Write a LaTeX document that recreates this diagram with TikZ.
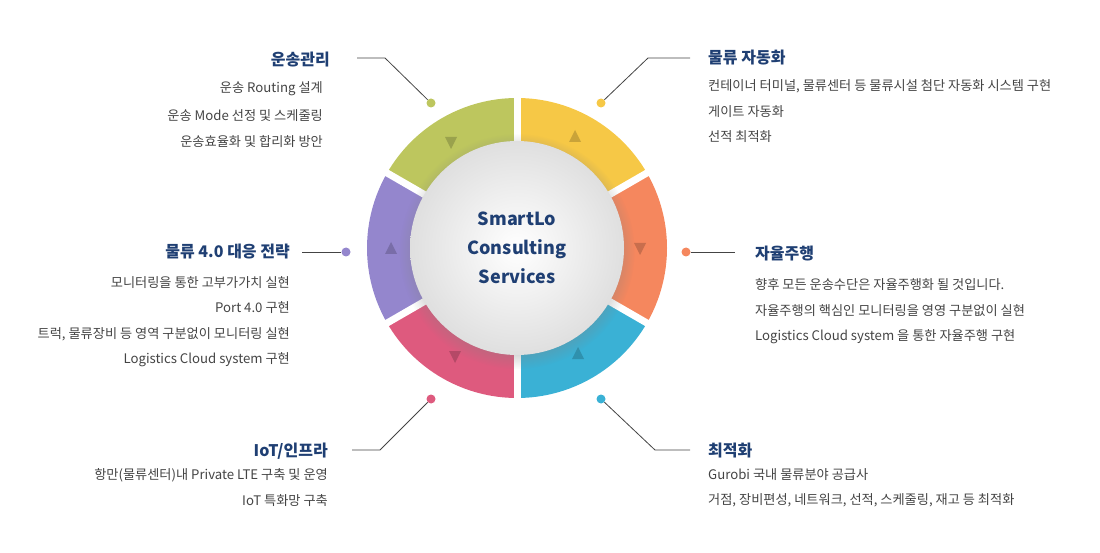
\documentclass[tikz,border=0pt]{standalone}
\usepackage{fontspec}
\setmainfont{Noto Sans CJK KR}
\usetikzlibrary{shadows}
\definecolor{ttl}{HTML}{1F3F73}
\definecolor{bdy}{HTML}{444444}
\definecolor{cy}{HTML}{F6C846}
\definecolor{co}{HTML}{F5875E}
\definecolor{cb}{HTML}{3AB1D5}
\definecolor{cp}{HTML}{DE5A7E}
\definecolor{cu}{HTML}{9486CD}
\definecolor{cg}{HTML}{BDC65E}
\definecolor{ln}{HTML}{444444}
\tikzset{
 ttlL/.style={anchor=west,font=\fontsize{16}{18}\selectfont\bfseries,text=ttl,inner sep=0},
 ttlR/.style={anchor=east,font=\fontsize{16}{18}\selectfont\bfseries,text=ttl,inner sep=0},
 bodyL/.style={anchor=west,font=\fontsize{13.2}{15}\selectfont,text=bdy,inner sep=0},
 bodyR/.style={anchor=east,font=\fontsize{13.2}{15}\selectfont,text=bdy,inner sep=0},
 lead/.style={draw=ln,line width=0.8pt},
 tri/.style={fill=black,fill opacity=0.18}
}
\begin{document}
\begin{tikzpicture}[x=1pt,y=-1pt]
\useasboundingbox (0,0) rectangle (1100,553);
\begin{scope}[shift={(517,248)},y=1pt]
 \foreach \a/\b/\c in {30/90/cy,-30/30/co,-90/-30/cb,-150/-90/cp,150/210/cu,90/150/cg}{
  \fill[\c] (0,0) -- (\a:150) arc[start angle=\a,end angle=\b,radius=150] -- cycle;}
 \foreach \a in {90,30,-30,-90,-150,150}{\draw[white,line width=7pt] (0,0) -- (\a:155);}
 \fill[tri] (-66,99) -- (-60,111) -- (-72,111) -- cycle;
 \fill[tri] (58,118) -- (52,106) -- (64,106) -- cycle;
 \fill[tri] (123,-7) -- (117,5) -- (129,5) -- cycle;
 \fill[tri] (61,-99) -- (55,-111) -- (67,-111) -- cycle;
 \fill[tri] (-62,-115) -- (-68,-103) -- (-56,-103) -- cycle;
 \fill[tri] (-126,6) -- (-132,-6) -- (-120,-6) -- cycle;
 \shade[inner color=white,outer color=gray!25,circular drop shadow={shadow xshift=0pt,shadow yshift=-3pt,opacity=0.35}] (0,0) circle[radius=107];
\end{scope}
\node[align=center,font=\fontsize{18}{29}\selectfont\bfseries,text=ttl] (c) at (517,248) {SmartLo\\Consulting\\Services};
\foreach \n/\x/\y/\c in {d1/431/103/cg,d2/601/103/cy,d3/686/252/co,d4/601/399/cb,d5/431/399/cp,d6/346/252/cu}{
 \node[circle,fill=\c,minimum size=9pt,inner sep=0] (\n) at (\x,\y) {};}
\coordinate (k1) at (385,58); \coordinate (e1) at (357,58);
\coordinate (k2) at (648,58); \coordinate (e2) at (690,58);
\coordinate (e3) at (735,252);
\coordinate (k4) at (655,450); \coordinate (e4) at (690,450);
\coordinate (k5) at (380,450); \coordinate (e5) at (352,450);
\coordinate (e6) at (302,252);
\draw[lead] (d1) -- (k1) -- (e1);
\draw[lead] (d2) -- (k2) -- (e2);
\draw[lead] (d3) -- (e3);
\draw[lead] (d4) -- (k4) -- (e4);
\draw[lead] (d5) -- (k5) -- (e5);
\draw[lead] (d6) -- (e6);
\node[ttlR] (t1) at (330,60) {운송관리};
\node[bodyR] (b11) at (323,89) {운송 Routing 설계};
\node[bodyR] (b12) at (323,116) {운송 Mode 선정 및 스케줄링};
\node[bodyR] (b13) at (323,142) {운송효율화 및 합리화 방안};
\node[ttlL] (t2) at (708,58) {물류 자동화};
\node[bodyL] (b21) at (708,86) {컨테이너 터미널, 물류센터 등 물류시설 첨단 자동화 시스템 구현};
\node[bodyL] (b22) at (708,112) {게이트 자동화};
\node[bodyL] (b23) at (708,137) {선적 최적화};
\node[ttlL] (t3) at (755,254) {자율주행};
\node[bodyL] (b31) at (755,285) {향후 모든 운송수단은 자율주행화 될 것입니다.};
\node[bodyL] (b32) at (755,311) {자율주행의 핵심인 모니터링을 영영 구분없이 실현};
\node[bodyL] (b33) at (755,337) {Logistics Cloud system 을 통한 자율주행 구현};
\node[ttlL] (t4) at (708,451) {최적화};
\node[bodyL] (b41) at (708,475) {Gurobi 국내 물류분야 공급사};
\node[bodyL] (b42) at (708,500) {거점, 장비편성, 네트워크, 선적, 스케줄링, 재고 등 최적화};
\node[ttlR] (t5) at (328,451) {IoT/인프라};
\node[bodyR] (b51) at (328,475) {항만(물류센터)내 Private LTE 구축 및 운영};
\node[bodyR] (b52) at (328,501) {IoT 특화망 구축};
\node[ttlR] (t6) at (290,252) {물류 4.0 대응 전략};
\node[bodyR] (b61) at (290,283) {모니터링을 통한 고부가가치 실현};
\node[bodyR] (b62) at (290,308) {Port 4.0 구현};
\node[bodyR] (b63) at (290,334) {트럭, 물류장비 등 영역 구분없이 모니터링 실현};
\node[bodyR] (b64) at (290,360) {Logistics Cloud system 구현};
\end{tikzpicture}
\end{document}
